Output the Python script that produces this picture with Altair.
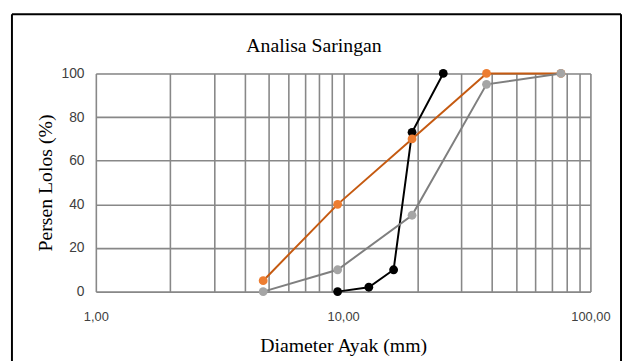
import altair as alt
import pandas as pd

# Sieve data (diameter in mm, percent passing)
black_x = [9.5, 12.7, 16.0, 19.0, 25.4]
black_y = [0, 2, 10, 73, 100]
orange_x = [4.75, 9.5, 19.0, 38.0, 76.0]
orange_y = [5, 40, 70, 100, 100]
gray_x = [4.75, 9.5, 19.0, 38.0, 76.0]
gray_y = [0, 10, 35, 95, 100]

series_names = ["Hitam", "Oranye", "Abu"]
line_colors = ["#000000", "#C55A11", "#7F7F7F"]
point_colors = ["#000000", "#ED7D31", "#A5A5A5"]

x_grid_values = [1, 2, 3, 4, 5, 6, 7, 8, 9, 10, 20, 30, 40, 50, 60, 70, 80, 90, 100]
x_tick_labels = {1: "1,00", 10: "10,00", 100: "100,00"}
y_ticks = [0, 20, 40, 60, 80, 100]

title_text = "Analisa Saringan"
x_title = "Diameter Ayak (mm)"
y_title = "Persen Lolos (%)"

label_expr = " : ".join(
    f"datum.value == {k} ? '{v}'" for k, v in x_tick_labels.items()
) + " : ''"

frames = []
for name, xs, ys in [(series_names[0], black_x, black_y),
                     (series_names[1], orange_x, orange_y),
                     (series_names[2], gray_x, gray_y)]:
    frames.append(pd.DataFrame({"d": xs, "p": ys, "s": name}))
df = pd.concat(frames, ignore_index=True)

xenc = alt.X("d:Q", scale=alt.Scale(type="log", domain=[1, 100], nice=False),
             axis=alt.Axis(values=x_grid_values, labelExpr=label_expr, labelOverlap=False,
                           labelFlush=False,
                           ticks=False, domain=False, grid=True, gridColor="#888888",
                           gridWidth=1.6, labelPadding=19, labelFontSize=13,
                           labelFont="Liberation Sans Narrow, Liberation Sans",
                           labelColor="#404040", title=x_title, titleFont="Liberation Serif",
                           titleFontSize=20, titleFontWeight="normal", titleBaseline="alphabetic",
                           titleY=61, titleColor="#000000"))
yenc = alt.Y("p:Q", scale=alt.Scale(domain=[0, 100], nice=False),
             axis=alt.Axis(values=y_ticks, ticks=False, domain=False, grid=True,
                           gridColor="#888888", gridWidth=1.6, labelPadding=12,
                           labelFontSize=14, labelFont="Liberation Sans Narrow, Liberation Sans",
                           labelColor="#404040", title=y_title, titleFont="Liberation Serif",
                           titleFontSize=20, titleFontWeight="normal", titleBaseline="alphabetic",
                           titleX=-45, titleColor="#000000"))

layers = []
# outer frame (left, top, right edges)
frame = alt.Chart(pd.DataFrame({"k": [0]}))
layers.append(frame.mark_rule(color="#000000", strokeWidth=2, clip=False).encode(
    x=alt.value(-85), y=alt.value(-60), y2=alt.value(300)))
layers.append(frame.mark_rule(color="#000000", strokeWidth=2, clip=False).encode(
    x=alt.value(-85), x2=alt.value(532), y=alt.value(-60)))
layers.append(frame.mark_rule(color="#000000", strokeWidth=2, clip=False).encode(
    x=alt.value(532), y=alt.value(-60), y2=alt.value(300)))

base = alt.Chart(df)
for name, lc, pc in zip(series_names, line_colors, point_colors):
    sub = base.transform_filter(alt.datum.s == name)
    layers.append(sub.mark_line(color=lc, strokeWidth=2).encode(x=xenc, y=yenc))
    layers.append(sub.mark_circle(color=pc, size=80, opacity=1).encode(x=xenc, y=yenc))

layers.append(alt.Chart(pd.DataFrame({"t": [title_text]})).mark_text(
    font="Liberation Serif", fontSize=20, color="#000000", baseline="alphabetic", align="center"
).encode(x=alt.value(221), y=alt.value(-22), text="t:N"))

chart = alt.layer(*layers).properties(
    width=501, height=221,
    autosize=alt.AutoSizeParams(type="none"),
    padding={"left": 89, "top": 64, "right": 32, "bottom": 68},
).configure_view(stroke="#000000", strokeWidth=2).configure(background="#ffffff")

chart.save("out.html", embed_options={"renderer": "svg", "actions": False})
